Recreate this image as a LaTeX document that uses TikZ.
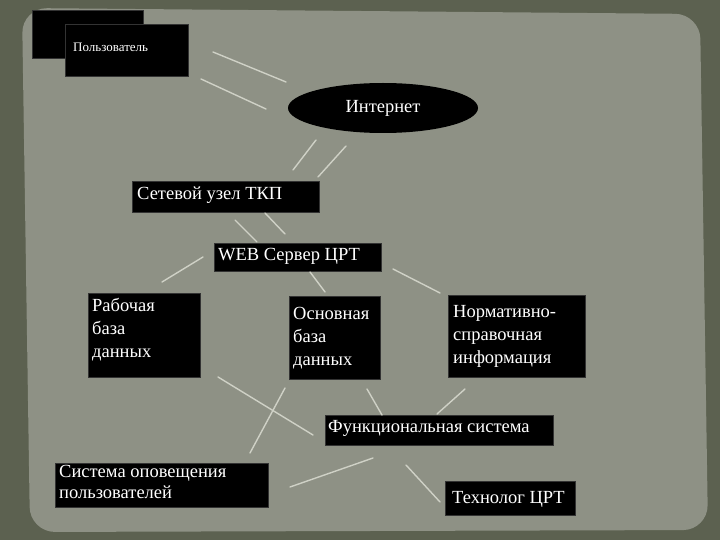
\documentclass[tikz,border=0pt]{standalone}
\usepackage{fontspec}
\setmainfont{Liberation Serif}
\usetikzlibrary{shapes.geometric}
\definecolor{outerbg}{HTML}{5C6150}
\definecolor{innerbg}{HTML}{8E9185}
\definecolor{lncol}{HTML}{CFD1C6}
\begin{document}
\begin{tikzpicture}[x=1pt,y=-1pt,
  blk/.style={fill=black,draw=black!60!gray,inner sep=0pt,anchor=north west},
  txt/.style={inner sep=0pt,text=white,font=\fontsize{18.5}{23}\selectfont,anchor=north west,align=left},
  ln/.style={draw=lncol,line width=1.4pt,line cap=round}]
\useasboundingbox (0,0) rectangle (720,540);
\fill[fill=outerbg] (0,0) rectangle (720,540);
\fill[fill=innerbg, rounded corners=25pt] (22,8) -- (700,14) -- (708,530) -- (30,532) -- cycle;
\node[blk,minimum width=111,minimum height=48] (bk) at (32,10) {};
\node[blk,minimum width=123,minimum height=52] (user) at (65,24) {};
\node[txt,font=\fontsize{13}{15}\selectfont] (usert) at (73,43) {Пользователь};
\node[ellipse,fill=black,minimum width=190,minimum height=50,text=white,font=\fontsize{18.5}{21}\selectfont] (inet) at (383,108) {Интернет};
\node[blk,minimum width=187,minimum height=31] (tkp) at (132,181) {};
\node[txt] (tkpt) at (137,187) {Сетевой узел ТКП};
\node[blk,minimum width=167,minimum height=28] (web) at (214,243) {};
\node[txt] (webt) at (218,248) {WEB Сервер ЦРТ};
\node[blk,minimum width=112,minimum height=84] (rab) at (88,293) {};
\node[txt] (rabt) at (92,298) {Рабочая\\база\\данных};
\node[blk,minimum width=91,minimum height=83] (osn) at (289,296) {};
\node[txt] (osnt) at (293,307) {Основная\\база\\данных};
\node[blk,minimum width=137,minimum height=82] (norm) at (448,295) {};
\node[txt] (normt) at (453,305) {Нормативно-\\справочная\\информация};
\node[blk,minimum width=228,minimum height=30] (func) at (325,415) {};
\node[txt] (funct) at (328,420) {Функциональная система};
\node[blk,minimum width=213,minimum height=44] (sys) at (55,463) {};
\node[txt,font=\fontsize{18.5}{21}\selectfont] (syst) at (59,465) {Система оповещения\\пользователей};
\node[blk,minimum width=130,minimum height=34] (tech) at (445,481) {};
\node[txt] (techt) at (452,491) {Технолог ЦРТ};
\coordinate (a1) at (213,52); \coordinate (b1) at (286,82);
\coordinate (a2) at (201,79); \coordinate (b2) at (266,109);
\coordinate (a3) at (316,140); \coordinate (b3) at (293,170);
\coordinate (a4) at (346,146); \coordinate (b4) at (318,177);
\coordinate (a5) at (235,220); \coordinate (b5) at (257,242);
\coordinate (a6) at (265,213); \coordinate (b6) at (285,234);
\coordinate (a7) at (203,257); \coordinate (b7) at (162,282);
\coordinate (a8) at (310,272); \coordinate (b8) at (325,292);
\coordinate (a9) at (393,269); \coordinate (b9) at (440,293);
\coordinate (a10) at (218,377); \coordinate (b10) at (313,435);
\coordinate (a11) at (285,388); \coordinate (b11) at (250,453);
\coordinate (a12) at (367,389); \coordinate (b12) at (382,415);
\coordinate (a13) at (465,389); \coordinate (b13) at (437,414);
\coordinate (a14) at (373,458); \coordinate (b14) at (290,487);
\coordinate (a15) at (406,465); \coordinate (b15) at (440,502);
\foreach \i in {1,...,15} \draw[ln] (a\i) -- (b\i);
\end{tikzpicture}
\end{document}
